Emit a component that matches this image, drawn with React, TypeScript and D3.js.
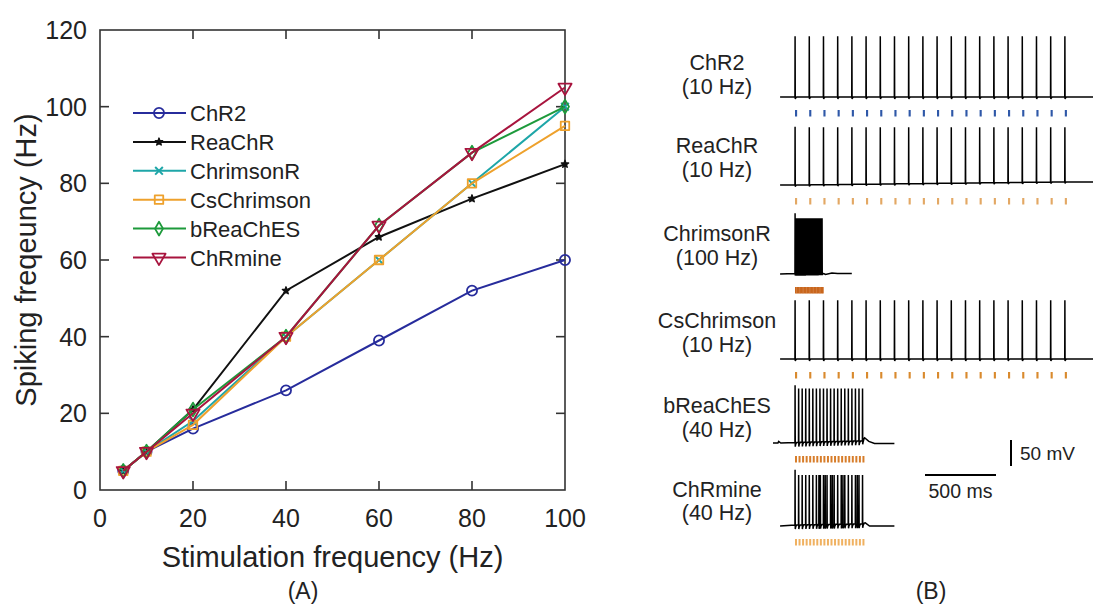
import React from 'react';
import * as d3 from 'd3';

// ---------- Panel A data ----------
const stimFreq = [5, 10, 20, 40, 60, 80, 100];
const seriesNames = ['ChR2', 'ReaChR', 'ChrimsonR', 'CsChrimson', 'bReaChES', 'ChRmine'];
const chr2 = [5, 10, 16, 26, 39, 52, 60];
const reachr = [5, 10, 21, 52, 66, 76, 85];
const chrimsonR = [5, 10, 18, 40, 60, 80, 100];
const csChrimson = [5, 10, 17, 40, 60, 80, 95];
const breaches = [5, 10, 21, 40, 69, 88, 100];
const chrmine = [5, 10, 20, 40, 69, 88, 105];
const seriesValues = [chr2, reachr, chrimsonR, csChrimson, breaches, chrmine];
const seriesColors = ['#272c9c', '#111111', '#1ea6a8', '#eea12c', '#1d9a3b', '#a8143e'];
const seriesMarkers = ['circle', 'star', 'times', 'square', 'diamond', 'triangleDown'];
const xTicks = [0, 20, 40, 60, 80, 100];
const yTicks = [0, 20, 40, 60, 80, 100, 120];

// ---------- Panel B data ----------
const traceNames = ['ChR2', 'ReaChR', 'ChrimsonR', 'CsChrimson', 'bReaChES', 'ChRmine'];
const traceRates = ['(10 Hz)', '(10 Hz)', '(100 Hz)', '(10 Hz)', '(40 Hz)', '(40 Hz)'];
const pulses10 = [0, 100, 200, 300, 400, 500, 600, 700, 800, 900, 1000, 1100, 1200, 1300, 1400, 1500, 1600, 1700, 1800, 1900];
const pulses40 = [0, 25, 50, 75, 100, 125, 150, 175, 200, 225, 250, 275, 300, 325, 350, 375, 400, 425, 450, 475];
const pulses100 = [0, 10, 20, 30, 40, 50, 60, 70, 80, 90, 100, 110, 120, 130, 140, 150, 160, 170, 180, 190];
const chrmineSpikes = [0, 25, 50, 75, 100, 125, 150, 168, 178, 200, 212, 225, 250, 262, 275, 300, 325, 337, 350, 375, 400, 425, 438, 450, 475];
const traceFirstPeak = [52, 47, 52, 48, 46, 43];
const tracePeak = [52, 46, 42, 48, 40, 33];
const traceUndershoot = [4, 3, 4, 4, 8, 8];
const traceWindow = [[-105, 2100], [-105, 2100], [-105, 400], [-105, 2100], [-155, 700], [-105, 700]];
const chr2Base = [[-105, -65], [2100, -65]];
const reachrBase = [[-105, -65], [0, -65], [1900, -59], [2100, -59]];
const chrimsonBase = [[-105, -65], [0, -64], [195, -63], [215, -66], [260, -63], [300, -64], [400, -64]];
const csBase = [[-105, -65], [2100, -65]];
const breachesBase = [[-155, -65], [-120, -65], [-115, -62], [-100, -65], [0, -64], [470, -61], [490, -55], [520, -62], [560, -66], [700, -66]];
const chrmineBase = [[-105, -65], [0, -63], [470, -61], [495, -59], [525, -65], [700, -65]];
const traceBases = [chr2Base, reachrBase, chrimsonBase, csBase, breachesBase, chrmineBase];
const stimColors = ['#2f58a8', '#e3a864', '#c9661d', '#d98a2e', '#d77d2a', '#f0b160'];
const stimDur = [15, 15, 12, 15, 14, 14];

const FONT = 'Liberation Sans, Arial, Helvetica, sans-serif';

function markerPath(kind: string): string {
  const s = d3.symbol();
  switch (kind) {
    case 'circle':
      return s.type(d3.symbolCircle).size(80)() as string;
    case 'star':
      return s.type(d3.symbolStar).size(16)() as string;
    case 'times': {
      const t = (d3 as any).symbolTimes;
      if (t) return s.type(t).size(40)() as string;
      return 'M-4,-4L4,4M-4,4L4,-4';
    }
    case 'square':
      return s.type(d3.symbolSquare).size(72)() as string;
    case 'diamond':
      return s.type(d3.symbolDiamond).size(55)() as string;
    case 'triangleDown':
      return s.type(d3.symbolTriangle).size(75)() as string;
  }
  return '';
}

function Marker({ kind, x, y, color }: { kind: string; x: number; y: number; color: string }) {
  const d = markerPath(kind);
  const filled = kind === 'star';
  const rot = kind === 'triangleDown' ? ' rotate(180)' : '';
  return (
    <path
      d={d}
      transform={`translate(${x},${y})${rot}`}
      fill={filled ? color : 'none'}
      stroke={color}
      strokeWidth={kind === 'times' ? 2 : kind === 'star' ? 1.5 : 1.8}
      strokeLinejoin="round"
    />
  );
}

function PanelA() {
  const x = d3.scaleLinear().domain([0, 100]).range([100, 565]);
  const y = d3.scaleLinear().domain([0, 120]).range([490, 30]);
  const line = d3
    .line<[number, number]>()
    .x((d) => x(d[0]))
    .y((d) => y(d[1]));
  const axisColor = '#333';
  const tickLen = 9;
  return (
    <g fontFamily={FONT}>
      <rect x={x(0)} y={y(120)} width={x(100) - x(0)} height={y(0) - y(120)} fill="none" stroke={axisColor} strokeWidth={1.6} />
      {xTicks.filter((t) => t > 0 && t < 100).map((t) => (
        <g key={'xt' + t}>
          <line x1={x(t)} x2={x(t)} y1={y(0)} y2={y(0) - tickLen} stroke={axisColor} strokeWidth={1.6} />
          <line x1={x(t)} x2={x(t)} y1={y(120)} y2={y(120) + tickLen} stroke={axisColor} strokeWidth={1.6} />
        </g>
      ))}
      {yTicks.filter((t) => t > 0 && t < 120).map((t) => (
        <g key={'yt' + t}>
          <line x1={x(0)} x2={x(0) + tickLen} y1={y(t)} y2={y(t)} stroke={axisColor} strokeWidth={1.6} />
          <line x1={x(100)} x2={x(100) - tickLen} y1={y(t)} y2={y(t)} stroke={axisColor} strokeWidth={1.6} />
        </g>
      ))}
      {xTicks.map((t) => (
        <text key={'xl' + t} x={x(t)} y={527} textAnchor="middle" fontSize={25} fill="#222">
          {t}
        </text>
      ))}
      {yTicks.map((t) => (
        <text key={'yl' + t} x={87} y={y(t) + 9} textAnchor="end" fontSize={25} fill="#222">
          {t}
        </text>
      ))}
      <text x={(x(0) + x(100)) / 2} y={567} textAnchor="middle" fontSize={29} fill="#222">
        Stimulation frequency (Hz)
      </text>
      <text transform={`translate(36,${(y(0) + y(120)) / 2}) rotate(-90)`} textAnchor="middle" fontSize={29} fill="#222">
        Spiking freqeuncy (Hz)
      </text>
      {seriesValues.map((vals, i) => {
        const pts = stimFreq.map((f, j) => [f, vals[j]] as [number, number]);
        return (
          <g key={seriesNames[i]}>
            <path d={line(pts) as string} fill="none" stroke={seriesColors[i]} strokeWidth={2} />
            {pts.map((p, j) => (
              <Marker key={j} kind={seriesMarkers[i]} x={x(p[0])} y={y(p[1])} color={seriesColors[i]} />
            ))}
          </g>
        );
      })}
      {seriesNames.map((n, i) => {
        const ly = 113 + i * 28.9;
        return (
          <g key={'lg' + n}>
            <line x1={133} x2={186} y1={ly} y2={ly} stroke={seriesColors[i]} strokeWidth={2} />
            <Marker kind={seriesMarkers[i]} x={159} y={ly} color={seriesColors[i]} />
            <text x={190} y={ly + 8} fontSize={22} fill="#222">
              {n}
            </text>
          </g>
        );
      })}
      <text x={303} y={599} textAnchor="middle" fontSize={23} fill="#222">
        (A)
      </text>
    </g>
  );
}

function PanelB() {
  const t = d3.scaleLinear().domain([0, 500]).range([795, 866]);
  const rowBase = [97, 185, 274, 359, 443, 526];
  const nameY = [70, 153, 241, 328, 413, 497];
  const rateY = [94, 177, 265, 352, 437, 520];
  const spikeSets = [pulses10, pulses10, pulses100, pulses10, pulses40, chrmineSpikes];
  const stimSets = [pulses10, pulses10, pulses100, pulses10, pulses40, pulses40];
  const labelX = 717;

  return (
    <g fontFamily={FONT}>
      {traceNames.map((name, i) => {
        const v = d3.scaleLinear().domain([-65, 35]).range([rowBase[i], rowBase[i] - 52]);
        const baseK = traceBases[i];
        const base = d3.scaleLinear().domain(baseK.map((k) => k[0])).range(baseK.map((k) => k[1])).clamp(true);
        const spikes = spikeSets[i];
        const [t0, t1] = traceWindow[i];
        const pts: [number, number][] = [];
        pts.push([t0, base(t0)]);
        baseK.forEach((k) => {
          if (k[0] > t0 && k[0] < spikes[0]) pts.push([k[0], k[1]]);
        });
        spikes.forEach((s, j) => {
          const next = j + 1 < spikes.length ? spikes[j + 1] : Infinity;
          const b = base(s);
          const peak = j === 0 ? traceFirstPeak[i] : tracePeak[i];
          pts.push([s - 0.4, b]);
          pts.push([s + 0.6, peak]);
          pts.push([s + 1.8, b - traceUndershoot[i]]);
          if (s + 5 < next - 0.5) pts.push([s + 5, b - traceUndershoot[i] * 0.4]);
          if (s + 12 < next - 0.5) pts.push([s + 12, base(s + 12)]);
          baseK.forEach((k) => {
            if (k[0] > s + 12 && k[0] < next - 0.5 && k[0] < t1) pts.push([k[0], k[1]]);
          });
        });
        pts.push([t1, base(t1)]);
        const path = d3
          .line<[number, number]>()
          .x((d) => t(d[0]))
          .y((d) => v(d[1]))(pts) as string;
        return (
          <g key={name}>
            <text x={labelX} y={nameY[i]} textAnchor="middle" fontSize={21.5} fill="#222">
              {name}
            </text>
            <text x={labelX} y={rateY[i]} textAnchor="middle" fontSize={21.5} fill="#222">
              {traceRates[i]}
            </text>
            <path d={path} fill="none" stroke="#000" strokeWidth={1.5} strokeLinejoin="miter" />
            {stimSets[i].map((p, j) => (
              <rect
                key={j}
                x={t(p)}
                y={rowBase[i] + 13}
                width={t(p + stimDur[i]) - t(p)}
                height={6.5}
                fill={stimColors[i]}
              />
            ))}
          </g>
        );
      })}
      <line x1={1011} x2={1011} y1={440} y2={440 + 26} stroke="#000" strokeWidth={2} />
      <text x={1020} y={460} fontSize={19} fill="#222">
        50 mV
      </text>
      <line x1={t(0) + 130} x2={t(500) + 130} y1={475} y2={475} stroke="#000" strokeWidth={2} />
      <text x={(t(0) + t(500)) / 2 + 130} y={498} textAnchor="middle" fontSize={19.5} fill="#222">
        500 ms
      </text>
      <text x={931} y={599} textAnchor="middle" fontSize={23} fill="#222">
        (B)
      </text>
    </g>
  );
}

export default function App() {
  return (
    <svg
      width={1093}
      height={607}
      viewBox="0 0 1093 607"
      style={{ position: 'absolute', left: 0, top: 0, background: '#fff' }}
    >
      <rect width={1093} height={607} fill="#fff" />
      <PanelA />
      <PanelB />
    </svg>
  );
}
